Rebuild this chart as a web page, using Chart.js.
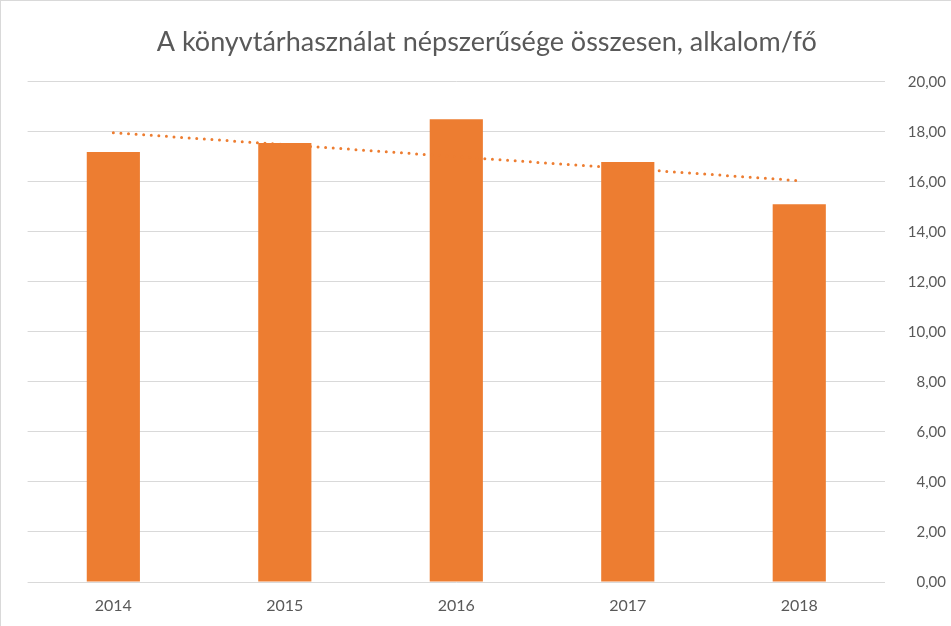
<!DOCTYPE html>
<html lang="hu">
<head>
<meta charset="utf-8">
<title>Könyvtárhasználat</title>
<script src="https://cdn.jsdelivr.net/npm/chart.js@4.4.1/dist/chart.umd.min.js"></script>
<style>
    html, body { margin: 0; padding: 0; background: #fff; }
    #wrap {
        width: 950px;
        height: 625px;
        border-left: 1px solid #d9d9d9;
        border-top: 1px solid #d9d9d9;
    }
</style>
</head>
<body>
<div id="wrap"><canvas id="usageChart" width="950" height="625"></canvas></div>
<script>
const years = ["2014", "2015", "2016", "2017", "2018"];
const visitsPerPerson = [17.20, 17.56, 18.51, 16.80, 15.11];
// linear trend line, as drawn on the chart
const trendValues = [17.97, 17.49, 17.01, 16.53, 16.05];
const yTicks = [0, 2, 4, 6, 8, 10, 12, 14, 16, 18, 20];

const orange = "#ED7D31";
const textGrey = "#595959";

const usageChart = new Chart(
    document.getElementById("usageChart"),
    {
        type: "bar",
        data: {
            labels: years,
            datasets: [
                {
                    type: "line",
                    label: "Lineáris trend",
                    data: trendValues,
                    borderColor: orange,
                    borderWidth: 3,
                    borderDash: [0, 7.6],
                    borderCapStyle: "round",
                    pointRadius: 0,
                    fill: false,
                    order: 0
                },
                {
                    label: "alkalom/fő",
                    data: visitsPerPerson,
                    backgroundColor: orange,
                    categoryPercentage: 1,
                    barPercentage: 0.31,
                    order: 1
                }
            ]
        },
        options: {
            responsive: false,
            animation: false,
            layout: {
                padding: { left: 26.6, right: 5, top: 0, bottom: 11 }
            },
            plugins: {
                legend: { display: false },
                tooltip: { enabled: false },
                title: {
                    display: true,
                    text: "A könyvtárhasználat népszerűsége összesen, alkalom/fő",
                    color: textGrey,
                    font: { family: "Lato", size: 27, weight: "normal" },
                    padding: { top: 25, bottom: 23.5 }
                }
            },
            scales: {
                x: {
                    grid: { display: false, drawTicks: false },
                    border: { display: false },
                    afterFit: function(scale){
                        scale.height = 33;
                    },
                    ticks: {
                        color: textGrey,
                        font: { family: "Lato", size: 16 },
                        padding: 14
                    }
                },
                y: {
                    position: "right",
                    min: 0,
                    max: 20,
                    afterBuildTicks: function(scale){
                        scale.ticks = yTicks.map(v => ({ value: v }));
                    },
                    afterFit: function(scale){
                        scale.width = 61;
                    },
                    grid: { color: "#d9d9d9", lineWidth: 1, drawTicks: false },
                    border: { display: false },
                    ticks: {
                        color: textGrey,
                        font: { family: "Lato", size: 15 },
                        crossAlign: "far",
                        padding: 17,
                        callback: function(value){
                            return value.toFixed(2).replace(".", ",");
                        }
                    }
                }
            }
        }
    }
);
</script>
</body>
</html>
